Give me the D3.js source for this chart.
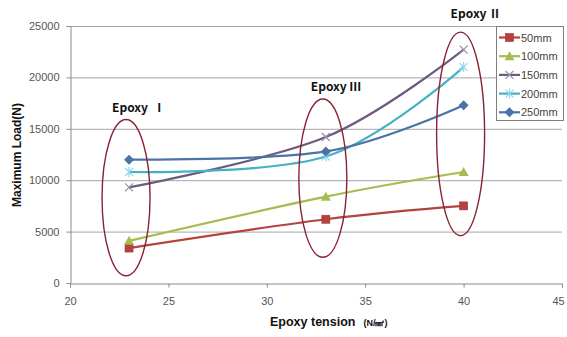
<!DOCTYPE html>
<html>
<head>
<meta charset="utf-8">
<script src="https://cdn.jsdelivr.net/npm/d3@7"></script>
<style>
  html, body { margin: 0; padding: 0; background: #fff; }
  svg { display: block; }
  text { font-family: "Liberation Sans", Arial, sans-serif; }
</style>
</head>
<body>
<svg id="chart" width="567" height="337"></svg>
<script>
// Epoxy tension (N/mm²) at which each specimen was tested
const tensions = [23, 33, 40];
// Series names (specimen length)
const seriesNames = ["50mm", "100mm", "150mm", "200mm", "250mm"];
// Maximum load (N) for each series at the tensions above
const load50 = [3400, 6200, 7500];
const load100 = [4100, 8400, 10800];
const load150 = [9300, 14200, 22700];
const load200 = [10800, 12300, 21000];
const load250 = [12000, 12800, 17300];
// Axis ticks
const xTicks = [20, 25, 30, 35, 40, 45];
const yTicks = [0, 5000, 10000, 15000, 20000, 25000];
// Epoxy groups circled on the chart
const groupLabels = ["Epoxy  \u2160", "Epoxy \u2162", "Epoxy \u2161"];
const groupTension = [23, 33, 40];
const groupLow = [700, 2500, 4600];
const groupHigh = [15900, 17900, 24400];

const seriesValues = [load50, load100, load150, load200, load250];
const colors = ["#B5423F", "#A3BE4F", "#6C5B7E", "#48B0C4", "#4A73A6"];
const markers = ["square", "triangle", "x", "star", "diamond"];

const svg = d3.select("#chart");

const x = d3.scaleLinear().domain([20, 45]).range([70, 562]);
const y = d3.scaleLinear().domain([0, 25000]).range([283, 26]);

// Horizontal gridlines
svg.append("g")
  .selectAll("line")
  .data(yTicks.filter(d => d > 0))
  .join("line")
  .attr("x1", x(20)).attr("x2", x(45))
  .attr("y1", d => y(d) + 0.5).attr("y2", d => y(d) + 0.5)
  .attr("stroke", "#a6a6a6").attr("stroke-width", 1);

// Axes
const xAxis = d3.axisBottom(x).tickValues(xTicks).tickFormat(d3.format("d")).tickSize(4).tickPadding(10);
const gx = svg.append("g").attr("transform", `translate(0,${y(0) + 0.5})`).call(xAxis);
const yAxis = d3.axisLeft(y).tickValues(yTicks).tickFormat(d3.format("d")).tickSize(4).tickPadding(7);
const gy = svg.append("g").attr("transform", `translate(${x(20) + 0.5},0)`).call(yAxis);
[gx, gy].forEach(g => {
  g.select(".domain").attr("stroke", "#8c8c8c");
  g.selectAll(".tick line").attr("stroke", "#8c8c8c");
  g.selectAll(".tick text").attr("fill", "#555").style("font-size", "11px")
    .style("font-family", "'Liberation Sans', Arial, sans-serif");
});
// keep the last x label inside the frame
gx.selectAll(".tick text").filter(d => d === 45).attr("dx", -4);

// Smoothed series lines
const line = d3.line()
  .x((d, i) => x(tensions[i]))
  .y(d => y(d))
  .curve(d3.curveCatmullRom.alpha(0));

seriesValues.forEach((vals, s) => {
  svg.append("path")
    .datum(vals)
    .attr("d", line)
    .attr("fill", "none")
    .attr("stroke", colors[s])
    .attr("stroke-width", 2.2);
});

function drawMarker(g, type, cx, cy, color) {
  if (type === "square") {
    g.append("rect").attr("x", cx - 4).attr("y", cy - 4).attr("width", 8).attr("height", 8)
      .attr("fill", color).attr("stroke", "#9e3532").attr("stroke-width", 0.6);
  } else if (type === "triangle") {
    g.append("path").attr("d", `M${cx},${cy - 5}L${cx + 5},${cy + 4}L${cx - 5},${cy + 4}Z`)
      .attr("fill", color);
  } else if (type === "x") {
    g.append("path").attr("d", `M${cx - 4},${cy - 4}L${cx + 4},${cy + 4}M${cx - 4},${cy + 4}L${cx + 4},${cy - 4}`)
      .attr("stroke", "#9a8fb0").attr("stroke-width", 1.3);
  } else if (type === "star") {
    g.append("path").attr("d", `M${cx - 4},${cy - 4}L${cx + 4},${cy + 4}M${cx - 4},${cy + 4}L${cx + 4},${cy - 4}M${cx},${cy - 5}L${cx},${cy + 5}`)
      .attr("stroke", "#8fdcef").attr("stroke-width", 1.3);
  } else if (type === "diamond") {
    g.append("path").attr("d", `M${cx},${cy - 5}L${cx + 5},${cy}L${cx},${cy + 5}L${cx - 5},${cy}Z`)
      .attr("fill", color);
  }
}

// Point markers
seriesValues.forEach((vals, s) => {
  const g = svg.append("g");
  vals.forEach((v, i) => drawMarker(g, markers[s], x(tensions[i]), y(v), colors[s]));
});

// Group ellipses and their labels
const labelOffsets = [{ dx: -17, dy: -8 }, { dx: -15, dy: -8 }, { dx: -13, dy: -14 }];
groupTension.forEach((t, i) => {
  const top = y(groupHigh[i]), bottom = y(groupLow[i]);
  svg.append("ellipse")
    .attr("cx", x(t) - 3)
    .attr("cy", (top + bottom) / 2)
    .attr("rx", 24)
    .attr("ry", (bottom - top) / 2)
    .attr("fill", "none")
    .attr("stroke", "#8a2233")
    .attr("stroke-width", 1.4);
  svg.append("text")
    .attr("x", x(t) + labelOffsets[i].dx)
    .attr("y", top + labelOffsets[i].dy)
    .attr("fill", "#111")
    .style("font-size", "12px")
    .style("font-weight", "bold")
    .style("font-family", "'Noto Sans CJK KR', 'Liberation Sans', sans-serif")
    .style("white-space", "pre")
    .text(groupLabels[i]);
});

// Axis titles
const xTitle = svg.append("text")
  .attr("x", 270).attr("y", 326)
  .attr("fill", "#111")
  .style("font-weight", "bold");
xTitle.append("tspan").style("font-size", "12.5px").text("Epoxy tension");
xTitle.append("tspan").attr("dx", 8).style("font-size", "9px").text("(N/\u339F)");

svg.append("text")
  .attr("transform", `translate(21,155) rotate(-90)`)
  .attr("text-anchor", "middle")
  .attr("fill", "#111")
  .style("font-size", "12px")
  .style("font-weight", "bold")
  .text("Maximum Load(N)");

// Legend
const legend = svg.append("g");
legend.append("rect")
  .attr("x", 496.5).attr("y", 26.5).attr("width", 67).attr("height", 94)
  .attr("fill", "#fff").attr("stroke", "#7f7f7f").attr("stroke-width", 1);
seriesNames.forEach((name, s) => {
  const ly = 37.5 + s * 18.7;
  legend.append("line")
    .attr("x1", 499).attr("x2", 520).attr("y1", ly).attr("y2", ly)
    .attr("stroke", colors[s]).attr("stroke-width", 2.2);
  drawMarker(legend, markers[s], 509.5, ly, colors[s]);
  legend.append("text")
    .attr("x", 521).attr("y", ly + 4)
    .attr("fill", "#444")
    .style("font-size", "11px")
    .text(name);
});
</script>
</body>
</html>
